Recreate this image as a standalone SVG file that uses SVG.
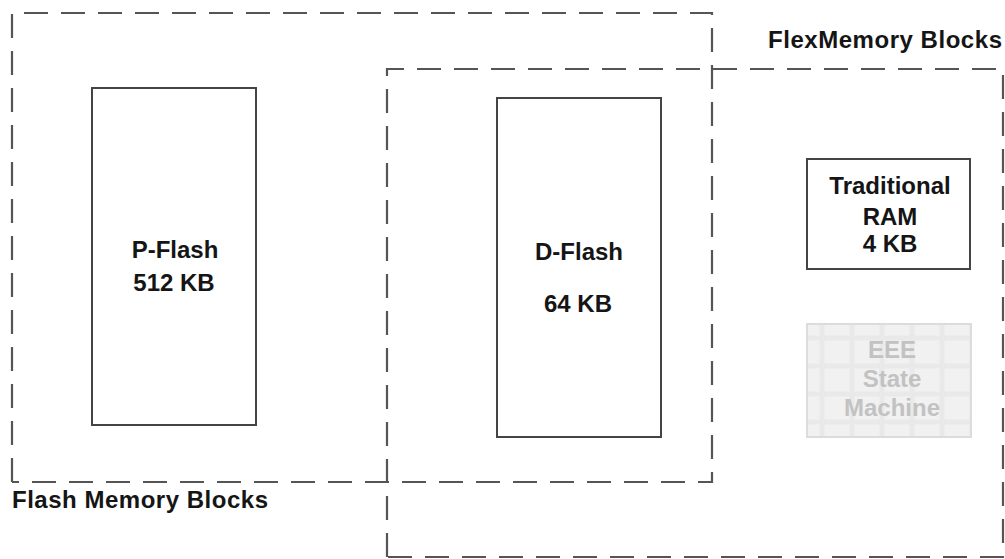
<svg xmlns="http://www.w3.org/2000/svg" width="1005" height="559" viewBox="0 0 1005 559">
<defs>
<style>
.dash{fill:none;stroke:#555;stroke-width:2.2;stroke-dasharray:24 13}
.box{fill:#fff;stroke:#444;stroke-width:2}
.t{font-family:"Liberation Sans",Arial,sans-serif;font-weight:bold;font-size:24px;fill:#151515;text-anchor:middle}
.lbl{font-family:"Liberation Sans",Arial,sans-serif;font-weight:bold;font-size:24px;fill:#151515}
.g{font-family:"Liberation Sans",Arial,sans-serif;font-weight:bold;font-size:24px;fill:#c2c2c2;text-anchor:middle}
</style>
<pattern id="grid" x="807" y="324" width="30" height="28" patternUnits="userSpaceOnUse">
<rect width="30" height="28" fill="#f1f1f1"/>
<path d="M15 0V28M0 14H30" stroke="#e9e9e9" stroke-width="5" fill="none"/>
</pattern>
</defs>
<g id="flash-blocks">
<path class="dash" d="M12 482V13H712V482H12"/>
<text class="lbl" x="12" y="508" textLength="256">Flash Memory Blocks</text>
</g>
<g id="flexmemory-blocks">
<path class="dash" d="M387 557V69H1003V557H387"/>
<text class="lbl" x="768" y="48" textLength="234">FlexMemory Blocks</text>
</g>
<g id="p-flash">
<rect class="box" x="92" y="88" width="164" height="337"/>
<text class="t" x="175" y="258">P-Flash</text>
<text class="t" x="174" y="291">512 KB</text>
</g>
<g id="d-flash">
<rect class="box" x="497" y="98" width="164" height="339"/>
<text class="t" x="579" y="260">D-Flash</text>
<text class="t" x="578" y="312">64 KB</text>
</g>
<g id="ram">
<rect class="box" x="807" y="159" width="163" height="110"/>
<text class="t" x="890" y="194">Traditional</text>
<text class="t" x="890" y="225">RAM</text>
<text class="t" x="890" y="252">4 KB</text>
</g>
<g id="eee">
<rect x="807" y="324" width="164" height="113" fill="url(#grid)" stroke="#dcdcdc" stroke-width="2"/>
<text class="g" x="892" y="358">EEE</text>
<text class="g" x="892" y="387">State</text>
<text class="g" x="892" y="416">Machine</text>
</g>
<g id="connectors"/>
</svg>
